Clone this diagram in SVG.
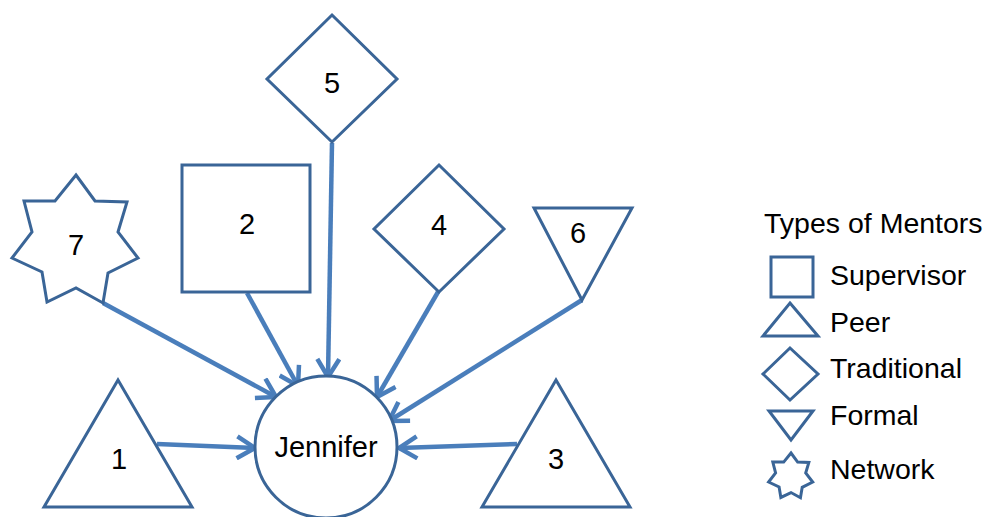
<svg xmlns="http://www.w3.org/2000/svg" width="989" height="517" viewBox="0 0 989 517">
<defs>
<style>
.s{fill:#fff;stroke:#3a6597;stroke-width:3;stroke-linejoin:miter}
.t{font-family:"Liberation Sans",Arial,sans-serif;font-size:29px;fill:#000;text-anchor:middle}
.l{font-family:"Liberation Sans",Arial,sans-serif;font-size:28.5px;fill:#000}
.c{fill:none;stroke:#4a7ebb;stroke-width:4.5;marker-end:url(#ah)}
</style>
<marker id="ah" markerUnits="userSpaceOnUse" viewBox="0 0 24 26" markerWidth="24" markerHeight="26" refX="20" refY="13" orient="auto">
<path d="M2,2 L20,13 L2,24" fill="none" stroke="#4a7ebb" stroke-width="4.5"/>
</marker>
<polygon id="star" points="76,175 95,201 127,202 118,232 138,258 108,273 103,303 76,288 47,302 42,272 12,258 32,232 24,201 55,201"/>
</defs>
<rect width="989" height="517" fill="#fff"/>
<g id="connectors">
<line class="c" x1="157" y1="444" x2="255" y2="448"/>
<line class="c" x1="517" y1="444" x2="399" y2="448"/>
<line class="c" x1="103" y1="303" x2="276" y2="397"/>
<line class="c" x1="247" y1="293" x2="298" y2="386"/>
<line class="c" x1="332" y1="143" x2="328" y2="377"/>
<line class="c" x1="438" y1="292" x2="377" y2="397"/>
<line class="c" x1="582" y1="300" x2="389" y2="421"/>
</g>
<g id="node-jennifer">
<circle class="s" cx="326" cy="447" r="71"/>
<text class="t" x="326" y="457">Jennifer</text>
</g>
<g id="node-1">
<polygon class="s" points="118,380 192,507 44,507"/>
<text class="t" x="119" y="469">1</text>
</g>
<g id="node-2">
<rect class="s" x="182" y="165" width="128" height="127"/>
<text class="t" x="247" y="234">2</text>
</g>
<g id="node-3">
<polygon class="s" points="556,380 630,507 482,507"/>
<text class="t" x="556" y="469">3</text>
</g>
<g id="node-4">
<polygon class="s" points="439,165 504,229 439,292 374,229"/>
<text class="t" x="439" y="235">4</text>
</g>
<g id="node-5">
<polygon class="s" points="332,15 397,79 332,142 267,79"/>
<text class="t" x="332" y="93">5</text>
</g>
<g id="node-6">
<polygon class="s" points="534,208 632,208 582,300"/>
<text class="t" x="578" y="243">6</text>
</g>
<g id="node-7">
<use href="#star" class="s"/>
<text class="t" x="76" y="255">7</text>
</g>
<g id="legend">
<text class="l" x="764" y="233">Types of Mentors</text>
<rect class="s" x="771" y="257" width="42" height="40"/>
<text class="l" x="830" y="285">Supervisor</text>
<polygon class="s" points="790,303 818,336 763,336"/>
<text class="l" x="830" y="332">Peer</text>
<polygon class="s" points="790,348 818,374 790,400 763,374"/>
<text class="l" x="830" y="378">Traditional</text>
<polygon class="s" points="769,411 813,411 791,440"/>
<text class="l" x="830" y="425">Formal</text>
<use href="#star" class="s" transform="translate(764.4,391.75) scale(0.35)" style="stroke-width:8.5"/>
<text class="l" x="830" y="479">Network</text>
</g>
</svg>
